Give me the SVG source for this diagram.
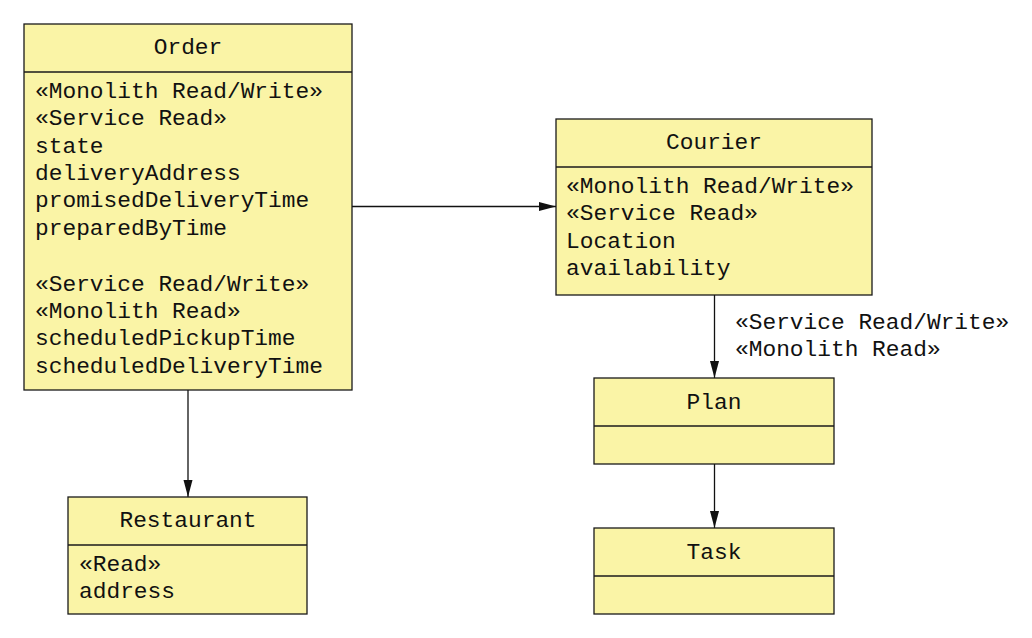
<svg xmlns="http://www.w3.org/2000/svg" width="1032" height="638" viewBox="0 0 1032 638">
<style>
.box{fill:#faf4a6;stroke:#1a1a1a;stroke-width:1.3}
.div{stroke:#1a1a1a;stroke-width:1.3}
text{font-family:"Liberation Mono","Courier New",monospace;font-size:22.85px;fill:#111}
.t{text-anchor:middle}
.edge{stroke:#111;stroke-width:1.3;fill:none;marker-end:url(#arr)}
</style>
<defs>
<marker id="arr" markerUnits="userSpaceOnUse" markerWidth="17" markerHeight="10" refX="17" refY="5" orient="auto">
<path d="M0,0.5 L17,5 L0,9.5 z" fill="#111"/>
</marker>
</defs>
<rect width="1032" height="638" fill="#fff"/>
<g id="connectors">
<path class="edge" d="M352,206.5 H556"/>
<path class="edge" d="M188,390 V497"/>
<path class="edge" d="M714.5,295 V378"/>
<path class="edge" d="M714.5,464 V528"/>
<text x="735" y="329">«Service Read/Write»</text>
<text x="735" y="356">«Monolith Read»</text>
</g>
<g id="order">
<rect class="box" x="24" y="24" width="328" height="366"/>
<line class="div" x1="24" y1="72" x2="352" y2="72"/>
<text class="t" x="188" y="54">Order</text>
<text x="35" y="98">«Monolith Read/Write»</text>
<text x="35" y="125.3">«Service Read»</text>
<text x="35" y="152.6">state</text>
<text x="35" y="180">deliveryAddress</text>
<text x="35" y="207.2">promisedDeliveryTime</text>
<text x="35" y="234.5">preparedByTime</text>
<text x="35" y="290.6">«Service Read/Write»</text>
<text x="35" y="318">«Monolith Read»</text>
<text x="35" y="345.3">scheduledPickupTime</text>
<text x="35" y="372.6">scheduledDeliveryTime</text>
</g>
<g id="courier">
<rect class="box" x="556" y="119" width="316" height="176"/>
<line class="div" x1="556" y1="167" x2="872" y2="167"/>
<text class="t" x="714" y="149">Courier</text>
<text x="566" y="193">«Monolith Read/Write»</text>
<text x="566" y="220.3">«Service Read»</text>
<text x="566" y="247.6">Location</text>
<text x="566" y="275">availability</text>
</g>
<g id="plan">
<rect class="box" x="594" y="378" width="240" height="86"/>
<line class="div" x1="594" y1="426" x2="834" y2="426"/>
<text class="t" x="714" y="409">Plan</text>
</g>
<g id="task">
<rect class="box" x="594" y="528" width="240" height="86"/>
<line class="div" x1="594" y1="576" x2="834" y2="576"/>
<text class="t" x="714" y="559">Task</text>
</g>
<g id="restaurant">
<rect class="box" x="68" y="497" width="239" height="117"/>
<line class="div" x1="68" y1="545" x2="307" y2="545"/>
<text class="t" x="188" y="527">Restaurant</text>
<text x="79" y="571">«Read»</text>
<text x="79" y="598.3">address</text>
</g>
</svg>
